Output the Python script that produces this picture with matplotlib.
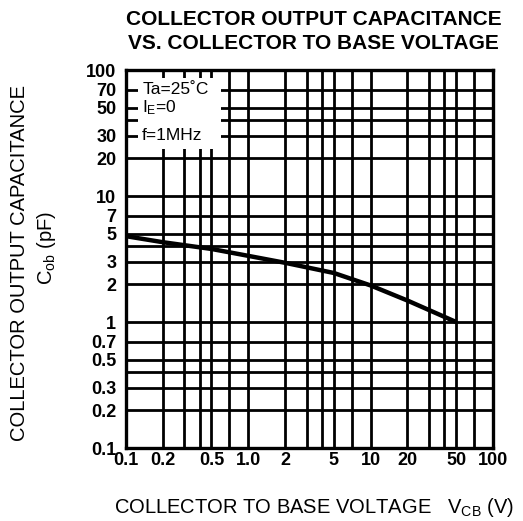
import numpy as np
import matplotlib
matplotlib.use("Agg")
import matplotlib.pyplot as plt
from matplotlib.patches import Rectangle

plt.rcParams["font.family"] = ["Liberation Sans", "DejaVu Sans"]
plt.rcParams["mathtext.fontset"] = "custom"
plt.rcParams["mathtext.rm"] = "Liberation Sans"
plt.rcParams["mathtext.bf"] = "Liberation Sans:bold"
plt.rcParams["mathtext.it"] = "Liberation Sans"

# curve (Vcb in V, Cob in pF)
vcb = [0.1, 0.2, 0.5, 1.0, 2.0, 5.0, 10.0, 20.0, 50.0]
cob = [4.8, 4.3, 3.8, 3.35, 2.95, 2.45, 1.95, 1.48, 1.0]

x_ticks = [0.1, 0.2, 0.5, 1.0, 2, 5, 10, 20, 50, 100]
x_ticklabels = ["0.1", "0.2", "0.5", "1.0", "2", "5", "10", "20", "50", "100"]
y_ticks = [0.1, 0.2, 0.3, 0.5, 0.7, 1, 2, 3, 5, 7, 10, 20, 30, 50, 70, 100]
y_ticklabels = ["0.1", "0.2", "0.3", "0.5", "0.7", "1", "2", "3", "5", "7",
                "10", "20", "30", "50", "70", "100"]
grid_mult = [1, 2, 3, 4, 5, 7]
decades = [0.1, 1, 10]

conditions = ["Ta=25\u02daC", r"I$_{\mathrm{E}}$=0", "f=1MHz"]
cond_y = [70, 50, 30]

fig = plt.figure(figsize=(5.23, 5.21), dpi=100)
ax = fig.add_axes([0.2409, 0.1401, 0.7017, 0.7255])
ax.set_xscale("log")
ax.set_yscale("log")
ax.set_xlim(0.1, 100)
ax.set_ylim(0.1, 100)

grid_vals = [d * m for d in decades for m in grid_mult][1:]
for g in grid_vals:
    ax.axvline(g, color="black", lw=2.0, zorder=1)
    ax.axhline(g, color="black", lw=2.0, zorder=1)

# white box behind the test conditions
ax.add_patch(Rectangle((0.032, 0.79), 0.228, 0.19, transform=ax.transAxes,
                       facecolor="white", edgecolor="none", zorder=2))
for txt, yv in zip(conditions, cond_y):
    ax.text(0.044, yv, txt, transform=ax.get_yaxis_transform(),
            fontsize=12.5, va="center", ha="left", zorder=3)

ax.plot(vcb, cob, color="black", lw=3.2, solid_capstyle="butt", zorder=4)

ax.set_xticks(x_ticks)
ax.set_xticklabels(x_ticklabels)
ax.set_yticks(y_ticks)
ax.set_yticklabels(y_ticklabels)
ax.minorticks_off()
ax.tick_params(length=0, labelsize=13)
ax.tick_params(axis="y", pad=7)
ax.tick_params(axis="x", pad=3)
for lab in ax.get_xticklabels() + ax.get_yticklabels():
    lab.set_fontweight("bold")
for sp in ax.spines.values():
    sp.set_linewidth(2.4)
    sp.set_zorder(5)

fig.text(0.60, 0.962, "COLLECTOR OUTPUT CAPACITANCE", ha="center", va="center",
         fontsize=15, fontweight="bold")
fig.text(0.60, 0.917, "VS. COLLECTOR TO BASE VOLTAGE", ha="center", va="center",
         fontsize=15, fontweight="bold")

fig.text(0.038, 0.495, "COLLECTOR OUTPUT CAPACITANCE", rotation=90,
         ha="center", va="center", fontsize=14.5)
fig.text(0.088, 0.525, r"C$_{\mathrm{ob}}$ (pF)", rotation=90,
         ha="center", va="center", fontsize=14.5)

fig.text(0.60, 0.025, r"COLLECTOR TO BASE VOLTAGE   V$_{\mathrm{CB}}$ (V)",
         ha="center", va="center", fontsize=14.5)

fig.savefig("out.png", dpi=100)
